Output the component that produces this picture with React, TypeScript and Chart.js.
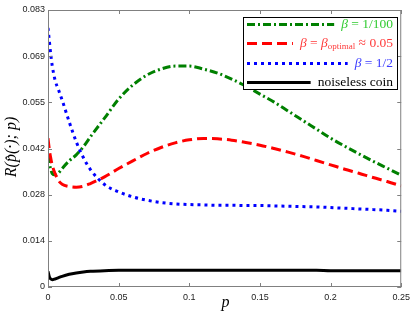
import React, { useEffect, useRef } from 'react';
import { Chart, registerables } from 'chart.js';
Chart.register(...registerables);

const pGrid = [0, 0.001, 0.002, 0.003, 0.005, 0.0075, 0.01, 0.015, 0.02, 0.025, 0.03, 0.04, 0.05, 0.06, 0.07, 0.08, 0.09, 0.1, 0.11, 0.12, 0.13, 0.14, 0.15, 0.16, 0.17, 0.18, 0.19, 0.2, 0.21, 0.22, 0.23, 0.24, 0.25];
const beta100 = [0.0395, 0.0370, 0.0352, 0.0340, 0.0336, 0.0342, 0.0355, 0.0378, 0.0396, 0.0420, 0.0450, 0.0506, 0.0563, 0.0605, 0.0635, 0.0653, 0.0662, 0.0662, 0.0653, 0.0641, 0.0623, 0.0602, 0.0578, 0.0554, 0.0527, 0.0500, 0.0473, 0.0446, 0.0422, 0.0399, 0.0377, 0.0356, 0.0335];
const betaOptimal = [0.0446, 0.0410, 0.0385, 0.0365, 0.0340, 0.0318, 0.0308, 0.0301, 0.0299, 0.0302, 0.0310, 0.0330, 0.0355, 0.0378, 0.0400, 0.0418, 0.0432, 0.0441, 0.0445, 0.0444, 0.0440, 0.0433, 0.0425, 0.0415, 0.0404, 0.0392, 0.0379, 0.0366, 0.0353, 0.0341, 0.0328, 0.0316, 0.0303];
const betaHalf = [0.0776, 0.0735, 0.0695, 0.0663, 0.0620, 0.0590, 0.0560, 0.0495, 0.0435, 0.0388, 0.0352, 0.0307, 0.0285, 0.0270, 0.0260, 0.0253, 0.0249, 0.0247, 0.0246, 0.0245, 0.0245, 0.0244, 0.0244, 0.0243, 0.0242, 0.0241, 0.0240, 0.0238, 0.0236, 0.0234, 0.0232, 0.0230, 0.0227];
const noiseless = [0.0047, 0.0030, 0.0024, 0.0022, 0.0024, 0.0028, 0.0032, 0.0038, 0.0042, 0.0045, 0.0047, 0.0049, 0.0050, 0.0050, 0.0050, 0.0050, 0.0050, 0.0050, 0.0050, 0.0050, 0.0050, 0.0050, 0.0050, 0.0050, 0.0050, 0.0050, 0.0050, 0.0049, 0.0049, 0.0049, 0.0049, 0.0049, 0.0049];

const xTicks = [0, 0.05, 0.1, 0.15, 0.2, 0.25];
const xTickLabels = ['0', '0.05', '0.1', '0.15', '0.2', '0.25'];
const yMax = 0.083;
const yTickLabels = ['0', '0.014', '0.028', '0.042', '0.055', '0.069', '0.083'];

type Run = { t: string; i?: boolean; sub?: boolean };
const legendEntries: { runs: Run[]; color: string; textColor: string; dash: number[] }[] = [
  { runs: [{ t: 'β', i: true }, { t: ' = 1/100' }], color: '#008000', textColor: '#33cc33', dash: [8, 3, 2, 3] },
  { runs: [{ t: 'β', i: true }, { t: ' = ' }, { t: 'β', i: true }, { t: 'optimal', sub: true }, { t: ' ≈ 0.05' }], color: '#ff0000', textColor: '#ff3b3b', dash: [10, 5] },
  { runs: [{ t: 'β', i: true }, { t: ' = 1/2' }], color: '#0000ff', textColor: '#3b3bff', dash: [3, 4] },
  { runs: [{ t: 'noiseless coin' }], color: '#000000', textColor: '#000000', dash: [] },
];

const SERIF = '"Liberation Serif", "DejaVu Serif", serif';

const decorPlugin = {
  id: 'decor',
  afterDatasetsDraw(chart: any) {
    const ctx = chart.ctx as CanvasRenderingContext2D;
    const { left, right, top, bottom } = chart.chartArea;
    const xs = chart.scales.x;
    const ys = chart.scales.y;
    ctx.save();
    ctx.strokeStyle = '#808080';
    ctx.lineWidth = 1;
    ctx.setLineDash([]);
    ctx.strokeRect(left + 0.5, top + 0.5, right - left - 1, bottom - top - 1);
    ctx.beginPath();
    xTicks.forEach((v) => {
      const x = Math.round(xs.getPixelForValue(v)) + 0.5;
      ctx.moveTo(x, bottom);
      ctx.lineTo(x, bottom - 4);
      ctx.moveTo(x, top);
      ctx.lineTo(x, top + 4);
    });
    yTickLabels.forEach((_, i) => {
      const y = Math.round(ys.getPixelForValue((i * yMax) / 6)) + 0.5;
      ctx.moveTo(left, y);
      ctx.lineTo(left + 4, y);
      ctx.moveTo(right, y);
      ctx.lineTo(right - 4, y);
    });
    ctx.stroke();

    // legend
    const bx = 243, by = 17, bw = 154, bh = 72;
    ctx.fillStyle = '#ffffff';
    ctx.fillRect(bx, by, bw, bh);
    ctx.strokeStyle = '#000000';
    ctx.lineWidth = 1;
    ctx.strokeRect(bx + 0.5, by + 0.5, bw, bh);
    const rowsY = [24, 43, 63, 82];
    const textRight = 393;
    const fontFor = (r: Run) => `${r.i ? 'italic ' : ''}${r.sub ? 9 : 13.5}px ${SERIF}`;
    legendEntries.forEach((e, idx) => {
      const y = rowsY[idx];
      let w = 0;
      e.runs.forEach((r) => {
        ctx.font = fontFor(r);
        w += ctx.measureText(r.t).width;
      });
      let x = textRight - w;
      const textStart = x;
      ctx.fillStyle = e.textColor;
      ctx.textBaseline = 'middle';
      ctx.textAlign = 'left';
      e.runs.forEach((r) => {
        ctx.font = fontFor(r);
        ctx.fillText(r.t, x, r.sub ? y + 3.5 : y);
        x += ctx.measureText(r.t).width;
      });
      ctx.strokeStyle = e.color;
      ctx.lineWidth = 3;
      ctx.setLineDash(e.dash);
      ctx.beginPath();
      ctx.moveTo(247, y + 0.5);
      ctx.lineTo(textStart - 7, y + 0.5);
      ctx.stroke();
      ctx.setLineDash([]);
    });

    // axis titles
    ctx.fillStyle = '#000000';
    ctx.font = `italic 16px ${SERIF}`;
    ctx.textAlign = 'center';
    ctx.textBaseline = 'middle';
    ctx.fillText('p', (left + right) / 2 + 1, 303);
    ctx.translate(12, 147);
    ctx.rotate(-Math.PI / 2);
    ctx.fillText('R(p\u0302(·); p)', 0, 0);
    ctx.restore();
  },
};

export default function App() {
  const ref = useRef<HTMLCanvasElement | null>(null);
  useEffect(() => {
    if (!ref.current) return;
    const mk = (arr: number[]) => pGrid.map((p, i) => ({ x: p, y: arr[i] }));
    const common = { pointRadius: 0, borderWidth: 3, fill: false, cubicInterpolationMode: 'monotone' as const };
    const chart = new Chart(ref.current, {
      type: 'line',
      data: {
        datasets: [
          { ...common, label: 'noiseless coin', data: mk(noiseless), borderColor: '#000000', borderDash: [] },
          { ...common, label: 'β = 1/2', data: mk(betaHalf), borderColor: '#0000ff', borderDash: [3, 4] },
          { ...common, label: 'β = β_optimal ≈ 0.05', data: mk(betaOptimal), borderColor: '#ff0000', borderDash: [10, 5] },
          { ...common, label: 'β = 1/100', data: mk(beta100), borderColor: '#008000', borderDash: [8, 3, 2, 3] },
        ],
      },
      options: {
        animation: false,
        responsive: false,
        layout: { padding: { left: 0, right: 12, top: 10, bottom: 0 } },
        plugins: { legend: { display: false }, tooltip: { enabled: false } },
        scales: {
          x: {
            type: 'linear',
            min: 0,
            max: 0.25,
            afterBuildTicks: (s: any) => { s.ticks = xTicks.map((v) => ({ value: v })); },
            afterFit: (s: any) => { s.height = 29; },
            ticks: {
              callback: (_v: any, i: number) => xTickLabels[i],
              font: { family: '"Liberation Sans", Arial, sans-serif', size: 9 },
              color: '#222222',
              padding: 5,
              maxRotation: 0,
              autoSkip: false,
            },
            grid: { display: false, drawTicks: false },
            border: { display: false },
          },
          y: {
            type: 'linear',
            min: 0,
            max: yMax,
            afterBuildTicks: (s: any) => { s.ticks = yTickLabels.map((_, i) => ({ value: (i * yMax) / 6 })); },
            afterFit: (s: any) => { s.width = 48; },
            ticks: {
              callback: (_v: any, i: number) => yTickLabels[i],
              font: { family: '"Liberation Sans", Arial, sans-serif', size: 9 },
              color: '#222222',
              padding: 3,
              autoSkip: false,
            },
            grid: { display: false, drawTicks: false },
            border: { display: false },
          },
        },
      },
      plugins: [decorPlugin],
    });
    return () => chart.destroy();
  }, []);
  return (
    <div style={{ position: 'absolute', left: 0, top: 0, width: 415, height: 316, background: '#fff' }}>
      <canvas ref={ref} width={415} height={316} style={{ display: 'block' }} />
    </div>
  );
}
